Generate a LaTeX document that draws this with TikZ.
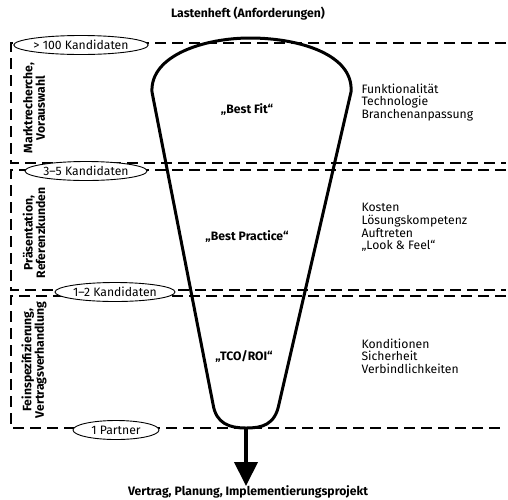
\documentclass[tikz,border=0pt]{standalone}
\usepackage{fontspec}
\setmainfont{Fira Sans}
\usetikzlibrary{arrows.meta,shapes.geometric}
\begin{document}
\begin{tikzpicture}[x=1pt,y=-1pt,
  dashline/.style={line width=1.5pt, dash pattern=on 11pt off 6pt},
  cand/.style={ellipse, draw, line width=0.9pt, fill=white, minimum height=19pt, inner sep=0pt, font=\fontsize{12.2}{13}\selectfont},
  phase/.style={rotate=90, align=center, font=\fontsize{12.2}{12.5}\selectfont\bfseries},
  crit/.style={align=left, anchor=north west, font=\fontsize{12.2}{12.6}\selectfont},
  stage/.style={font=\fontsize{12.2}{13}\selectfont\bfseries},
  funnel/.style={line width=3pt, line join=round}]
\useasboundingbox (0,0) rectangle (508,499);
% boxes
\draw[dashline] (506,43) -- (11,43) -- (11,163) -- (506,163);
\draw[dashline] (506,170) -- (11,170) -- (11,290) -- (506,290);
\draw[dashline] (506,296) -- (11,296) -- (11,428) -- (506,428);
% funnel
\coordinate (fl) at (152,92);
\coordinate (fr) at (351,92);
\coordinate (bl) at (213,404);
\coordinate (br) at (279,404);
\coordinate (fb) at (246,428);
\coordinate (ae) at (246,486);
\draw[funnel] (fl) .. controls (150,55) and (205,38) .. (250,38)
  .. controls (300,38) and (354,55) .. (fr) -- (br)
  .. controls (275,425) and (262,428) .. (fb)
  .. controls (230,428) and (216,424) .. (bl) -- cycle;
\draw[line width=4pt, -{Triangle[length=24pt,width=23pt]}] (fb) -- (ae);
% candidates
\node[cand, minimum width=131pt] (c1) at (81,45) {> 100 Kandidaten};
\node[cand, minimum width=122pt] (c2) at (86,171) {3–5 Kandidaten};
\node[cand, minimum width=120pt] (c3) at (115,292) {1–2 Kandidaten};
\node[cand, minimum width=86pt] (c4) at (116,430) {1 Partner};
% titles
\node[stage] (top) at (248,14) {Lastenheft (Anforderungen)};
\node[stage] (bot) at (248,492) {Vertrag, Planung, Implementierungsprojekt};
% stages
\node[stage] (s1) at (247,110) {„Best Fit“};
\node[stage] (s2) at (247,237) {„Best Practice“};
\node[stage] (s3) at (244,357) {„TCO/ROI“};
% phases
\node[phase] (p1) at (34,108) {Marktrecherche,\\Vorauswahl};
\node[phase] (p2) at (34,233) {Präsentation,\\Referenzkunden};
\node[phase] (p3) at (34,360) {Feinspezifizierung,\\Vertragsverhandlung};
% criteria
\node[crit] (k1) at (358,80) {Funktionalität\\Technologie\\Branchenanpassung};
\node[crit] (k2) at (358,200) {Kosten\\Lösungskompetenz\\Auftreten\\„Look \& Feel“};
\node[crit] (k3) at (358,335) {Konditionen\\Sicherheit\\Verbindlichkeiten};
\end{tikzpicture}
\end{document}
